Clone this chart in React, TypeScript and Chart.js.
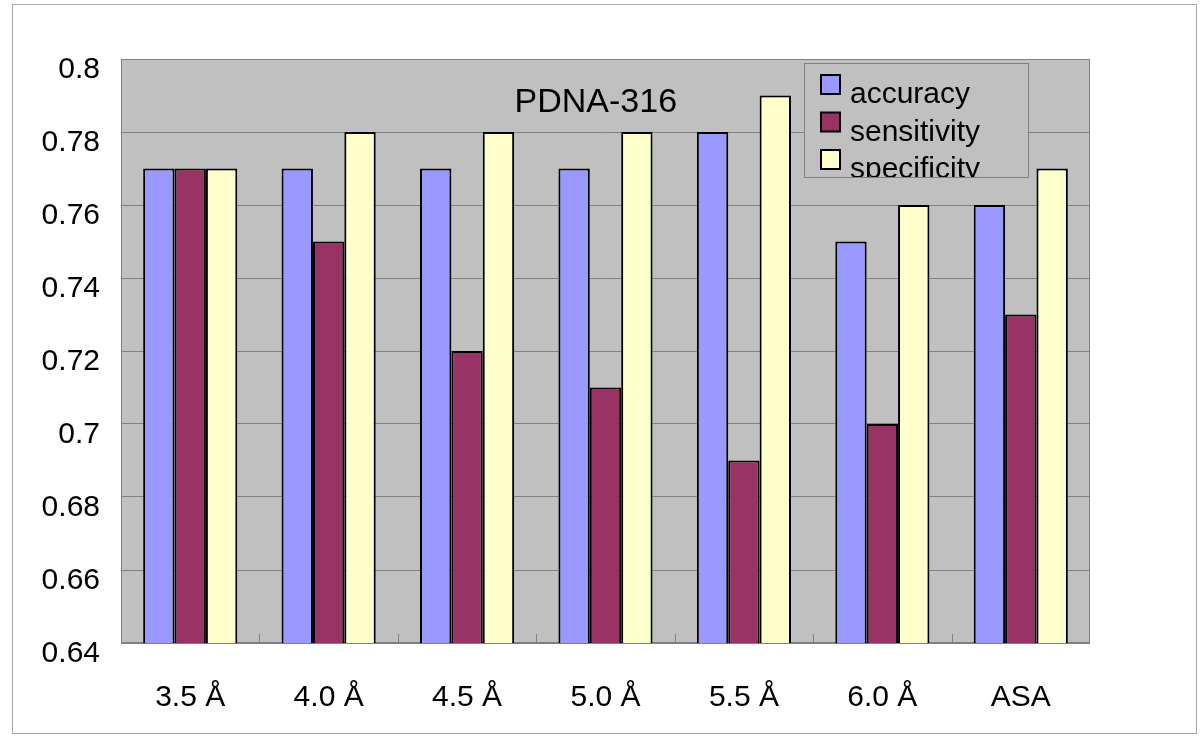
import React, { useEffect, useRef } from "react";
import { Chart, registerables } from "chart.js";

Chart.register(...registerables);

const categories = ["3.5 Å", "4.0 Å", "4.5 Å", "5.0 Å", "5.5 Å", "6.0 Å", "ASA"];
const accuracy = [0.77, 0.77, 0.77, 0.77, 0.78, 0.75, 0.76];
const sensitivity = [0.77, 0.75, 0.72, 0.71, 0.69, 0.7, 0.73];
const specificity = [0.77, 0.78, 0.78, 0.78, 0.79, 0.76, 0.77];
const seriesNames = ["accuracy", "sensitivity", "specificity"];
const seriesColors = ["#9999FF", "#993366", "#FFFFCC"];
const chartTitle = "PDNA-316";
const yMin = 0.64;
const yMax = 0.8;
const yStep = 0.02;

const FONT = "'Liberation Sans', Arial, sans-serif";

const decorPlugin = {
  id: "decor",
  beforeDraw(chart: any) {
    const { ctx, chartArea: a } = chart;
    ctx.save();
    ctx.fillStyle = "#ffffff";
    ctx.fillRect(0, 0, chart.width, chart.height);
    ctx.strokeStyle = "#a8a8a8";
    ctx.lineWidth = 1;
    ctx.strokeRect(12.5, 4.5, 1184, 729);
    ctx.fillStyle = "#C0C0C0";
    ctx.fillRect(a.left, a.top, a.right - a.left, a.bottom - a.top);
    ctx.restore();
  },
  beforeDatasetsDraw(chart: any) {
    const { ctx, chartArea: a } = chart;
    const x = chart.scales.x;
    ctx.save();
    ctx.strokeStyle = "#808080";
    ctx.lineWidth = 1;
    ctx.strokeRect(a.left + 0.5, a.top + 0.5, a.right - a.left - 1, a.bottom - a.top - 1);
    const n = categories.length;
    const w = (x.right - x.left) / n;
    ctx.beginPath();
    for (let i = 1; i < n; i++) {
      const px = Math.round(x.left + i * w) + 0.5;
      ctx.moveTo(px, a.bottom);
      ctx.lineTo(px, a.bottom - 9);
    }
    ctx.stroke();
    ctx.lineWidth = 2;
    ctx.beginPath();
    ctx.moveTo(a.left, a.bottom);
    ctx.lineTo(a.right, a.bottom);
    ctx.stroke();
    ctx.restore();
  },
  afterDatasetsDraw(chart: any) {
    const { ctx, chartArea: a } = chart;
    ctx.save();
    // title inside plot
    ctx.fillStyle = "#000";
    ctx.font = `34px ${FONT}`;
    ctx.textAlign = "center";
    ctx.textBaseline = "alphabetic";
    ctx.fillText(chartTitle, a.left + (a.right - a.left) * 0.49, a.top + 53);

    // legend box
    const bw = 225;
    const bh = 115;
    const bx = a.right - 61 - bw;
    const by = a.top + 4;
    ctx.fillStyle = "#C0C0C0";
    ctx.fillRect(bx, by, bw, bh);
    ctx.strokeStyle = "#808080";
    ctx.lineWidth = 1;
    ctx.strokeRect(bx + 0.5, by + 0.5, bw - 1, bh - 1);
    ctx.beginPath();
    ctx.rect(bx + 1, by + 1, bw - 2, bh - 2);
    ctx.clip();
    ctx.font = `30px ${FONT}`;
    ctx.textAlign = "left";
    ctx.textBaseline = "alphabetic";
    chart.data.datasets.forEach((ds: any, i: number) => {
      const sy = by + 12 + i * 37.5;
      ctx.fillStyle = ds.backgroundColor;
      ctx.fillRect(bx + 17, sy, 19, 19);
      ctx.strokeStyle = "#000";
      ctx.lineWidth = 2;
      ctx.strokeRect(bx + 17, sy, 19, 19);
      ctx.fillStyle = "#000";
      ctx.fillText(ds.label, bx + 46, sy + 28);
    });
    ctx.restore();
  },
};

export default function App() {
  const ref = useRef<HTMLCanvasElement>(null);
  useEffect(() => {
    if (!ref.current) return;
    const series = [accuracy, sensitivity, specificity];
    const chart = new Chart(ref.current, {
      type: "bar",
      data: {
        labels: categories,
        datasets: series.map((d, i) => ({
          label: seriesNames[i],
          data: d,
          backgroundColor: seriesColors[i],
          borderColor: "#000000",
          borderWidth: 2,
          barPercentage: 1.0,
          categoryPercentage: 0.68,
        })),
      },
      options: {
        responsive: false,
        animation: false,
        devicePixelRatio: 1,
        layout: { padding: { left: 0, top: 59, right: 110, bottom: 0 } },
        plugins: {
          legend: { display: false },
          title: { display: false },
          tooltip: { enabled: false },
        },
        scales: {
          x: {
            grid: { display: false, drawTicks: false },
            border: { display: false },
            ticks: {
              color: "#000",
              font: { family: FONT, size: 30 },
              padding: 37,
              maxRotation: 0,
              autoSkip: false,
            },
            afterFit(scale: any) {
              scale.height = 94;
            },
          },
          y: {
            min: yMin,
            max: yMax,
            grid: { color: "#808080", lineWidth: 1, drawTicks: false },
            border: { display: false },
            ticks: {
              stepSize: yStep,
              color: "#000",
              font: { family: FONT, size: 30 },
              padding: 21,
              labelOffset: 11,
              callback: (v: any) => String(Number(Number(v).toFixed(2))),
            },
            afterFit(scale: any) {
              scale.width = 121;
            },
          },
        },
      },
      plugins: [decorPlugin],
    });
    return () => chart.destroy();
  }, []);
  return (
    <div style={{ position: "absolute", left: 0, top: 0, width: 1200, height: 737, background: "#fff" }}>
      <canvas ref={ref} width={1200} height={737} style={{ display: "block" }} />
    </div>
  );
}
